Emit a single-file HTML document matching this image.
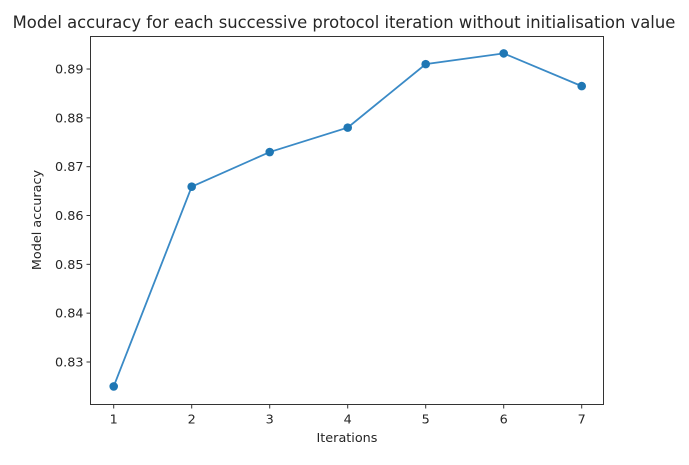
<!DOCTYPE html>
<html><head><meta charset="utf-8"><style>
body{margin:0;background:#fff;width:689px;height:460px;overflow:hidden}
text{font-family:"DejaVu Sans","Liberation Sans",sans-serif;fill:#262626}
</style></head><body>
<svg id="c" width="689" height="460"></svg>
<script>
const iterations=[1,2,3,4,5,6,7];
const accuracy=[0.825,0.8659,0.873,0.878,0.891,0.8932,0.8865];
const yTicks=[0.83,0.84,0.85,0.86,0.87,0.88,0.89];
const yLabels=["0.83","0.84","0.85","0.86","0.87","0.88","0.89"];
const L=90.5,R=603.5,T=36.5,B=404.5;
const xs=v=>113.7+(v-1)*78;
const ys=v=>362-(v-0.83)*4883;
const svg=document.getElementById('c');
const NS='http://www.w3.org/2000/svg';
function mk(t,a,p){const e=document.createElementNS(NS,t);for(const k in a)e.setAttribute(k,a[k]);(p||svg).appendChild(e);return e;}
let e;
e=mk('text',{x:344,y:28,'text-anchor':'middle','font-size':'16.4'});e.textContent='Model accuracy for each successive protocol iteration without initialisation value';


e=mk('rect',{x:L,y:T,width:R-L,height:B-T,fill:'none',stroke:'#333','stroke-width':1});


yTicks.forEach((v,i)=>{
 const y=ys(v);
 e=mk('line',{x1:L-4,x2:L,y1:y,y2:y,stroke:'#333'});
 
 
 e=mk('text',{x:L-7,y:y+4.5,'text-anchor':'end','font-size':'12.8'});e.textContent=yLabels[i];
 
 
});
iterations.forEach(v=>{
 const x=xs(v);
 e=mk('line',{x1:x,x2:x,y1:B,y2:B+4,stroke:'#333'});
 
 
 e=mk('text',{x:x,y:B+19,'text-anchor':'middle','font-size':'12.8'});e.textContent=String(v);
 
 
});
e=mk('text',{x:347,y:442,'text-anchor':'middle','font-size':'12.8'});e.textContent='Iterations';


e=mk('text',{x:0,y:0,'text-anchor':'middle','font-size':'12.8',transform:'translate(41,220) rotate(-90)'});e.textContent='Model accuracy';


e=mk('polyline',{points:iterations.map((v,i)=>xs(v)+','+ys(accuracy[i])).join(' '),fill:'none',stroke:'#3a8ac6','stroke-width':1.8});


iterations.forEach((v,i)=>{
 e=mk('circle',{cx:xs(v),cy:ys(accuracy[i]),r:4.3,fill:'#1f77b4'});
 
 
});
</script>
</body></html>
